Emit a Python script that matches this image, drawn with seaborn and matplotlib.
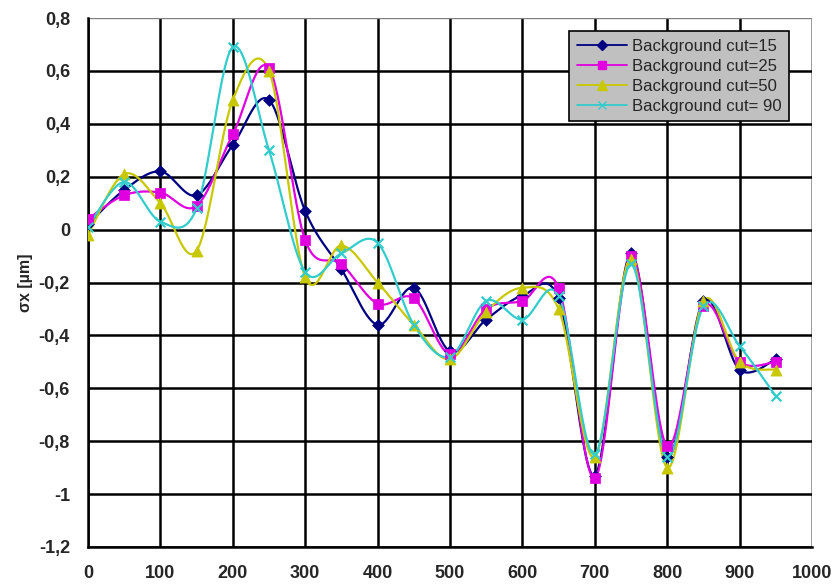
import numpy as np
import pandas as pd
import matplotlib
matplotlib.use("Agg")
import matplotlib.pyplot as plt
from matplotlib.lines import Line2D
from matplotlib.ticker import FuncFormatter
import seaborn as sns

# ---- data ----
x_pos = [0, 50, 100, 150, 200, 250, 300, 350, 400, 450,
         500, 550, 600, 650, 700, 750, 800, 850, 900, 950]
cut15 = [0.02, 0.15, 0.22, 0.13, 0.32, 0.49, 0.07, -0.15, -0.36, -0.22,
         -0.46, -0.34, -0.25, -0.26, -0.93, -0.09, -0.86, -0.27, -0.53, -0.49]
cut25 = [0.04, 0.13, 0.14, 0.09, 0.36, 0.61, -0.04, -0.13, -0.28, -0.26,
         -0.47, -0.30, -0.27, -0.22, -0.94, -0.10, -0.82, -0.29, -0.50, -0.50]
cut50 = [-0.02, 0.21, 0.10, -0.08, 0.49, 0.60, -0.18, -0.06, -0.20, -0.36,
         -0.49, -0.31, -0.22, -0.30, -0.86, -0.11, -0.90, -0.27, -0.50, -0.53]
cut90 = [0.01, 0.18, 0.03, 0.08, 0.69, 0.30, -0.16, -0.09, -0.05, -0.36,
         -0.48, -0.27, -0.34, -0.25, -0.85, -0.13, -0.86, -0.29, -0.44, -0.63]
series_names = ["Background cut=15", "Background cut=25",
                "Background cut=50", "Background cut= 90"]
x_ticks = [0, 100, 200, 300, 400, 500, 600, 700, 800, 900, 1000]
y_ticks = [-1.2, -1.0, -0.8, -0.6, -0.4, -0.2, 0.0, 0.2, 0.4, 0.6, 0.8]

colors = ["#000080", "#E000E0", "#C8C800", "#33CCCC"]
markers = ["D", "s", "^", "x"]
msizes = [6, 7, 8, 7]


def smooth(xs, ys, n=30):
    """Excel-style smoothed line (Catmull-Rom Bezier) through the points."""
    P = np.column_stack([xs, ys]).astype(float)
    P = np.vstack([P[0], P, P[-1]])
    out = []
    t = np.linspace(0, 1, n)
    for i in range(1, len(P) - 2):
        p0, p1, p2, p3 = P[i - 1], P[i], P[i + 1], P[i + 2]
        c1 = p1 + (p2 - p0) / 6.0
        c2 = p2 - (p3 - p1) / 6.0
        seg = ((1 - t) ** 3)[:, None] * p1 + (3 * (1 - t) ** 2 * t)[:, None] * c1 \
            + (3 * (1 - t) * t ** 2)[:, None] * c2 + (t ** 3)[:, None] * p2
        out.append(seg if i == 1 else seg[1:])
    out = np.vstack(out)
    return out[:, 0], out[:, 1]


sns.set_theme(style="white")
plt.rcParams['font.family'] = ['Liberation Sans', 'DejaVu Sans']

fig = plt.figure(figsize=(8.32, 5.88), dpi=100)
ax = fig.add_axes([88 / 832, 1 - 547 / 588, 724 / 832, 529 / 588])

all_series = [cut15, cut25, cut50, cut90]
for ys, name, c, m, ms in zip(all_series, series_names, colors, markers, msizes):
    sx, sy = smooth(x_pos, ys)
    sns.lineplot(x=sx, y=sy, color=c, linewidth=1.6, ax=ax, sort=False,
                 estimator=None, legend=False)
    df = pd.DataFrame({"x": x_pos, "y": ys})
    if m == "x":
        sns.scatterplot(data=df, x="x", y="y", marker="x", s=ms ** 2,
                        color=c, linewidth=1.6, ax=ax, legend=False, zorder=3)
    else:
        sns.scatterplot(data=df, x="x", y="y", marker=m, s=ms ** 2,
                        color=c, edgecolor=c, linewidth=0.5, ax=ax,
                        legend=False, zorder=3)

ax.set_xlim(0, 1000)
ax.set_ylim(-1.2, 0.8)
ax.set_xticks(x_ticks)
ax.set_yticks(y_ticks)


def fmt(v, pos):
    if abs(v) < 1e-9:
        return "0"
    s = ("%.1f" % v).rstrip("0").rstrip(".")
    return s.replace(".", ",")


ax.yaxis.set_major_formatter(FuncFormatter(fmt))
ax.xaxis.set_major_formatter(FuncFormatter(lambda v, p: "%d" % v))
ax.grid(True, color="black", linewidth=1.8)
ax.set_axisbelow(True)
gl = ax.get_ygridlines()
gl[-1].set_color("#808080")
gl[-1].set_linewidth(1.0)
xg = ax.get_xgridlines()
xg[-1].set_color("#808080")
for side in ["top", "right"]:
    ax.spines[side].set_visible(False)
for side in ["left", "bottom"]:
    ax.spines[side].set_color("black")
    ax.spines[side].set_linewidth(1.8)
ax.tick_params(axis="both", which="major", direction="out", length=6,
               width=1.5, color="black", labelsize=13, pad=7)
for lab in ax.get_xticklabels() + ax.get_yticklabels():
    lab.set_fontweight("bold")
ax.set_xlabel("")
ax.set_ylabel("σx [µm]", fontsize=11.5, fontweight="bold", labelpad=4)

handles = []
for name, c, m, ms in zip(series_names, colors, markers, msizes):
    handles.append(Line2D([0], [0], color=c, linewidth=1.3, marker=m,
                          markersize=ms * 0.85, markerfacecolor=c,
                          markeredgecolor=c, label=name))
leg = ax.legend(handles=handles, loc="upper left",
                bbox_to_anchor=((569 - 88) / 724, (547 - 31) / 529),
                frameon=True, fancybox=False, fontsize=12,
                handlelength=3.0, handletextpad=0.3, borderpad=0.45,
                labelspacing=0.3, borderaxespad=0)
leg.get_frame().set_facecolor("#C0C0C0")
leg.get_frame().set_edgecolor("black")
leg.get_frame().set_linewidth(1.2)
leg.get_frame().set_alpha(1)

fig.savefig("out.png", dpi=100)
